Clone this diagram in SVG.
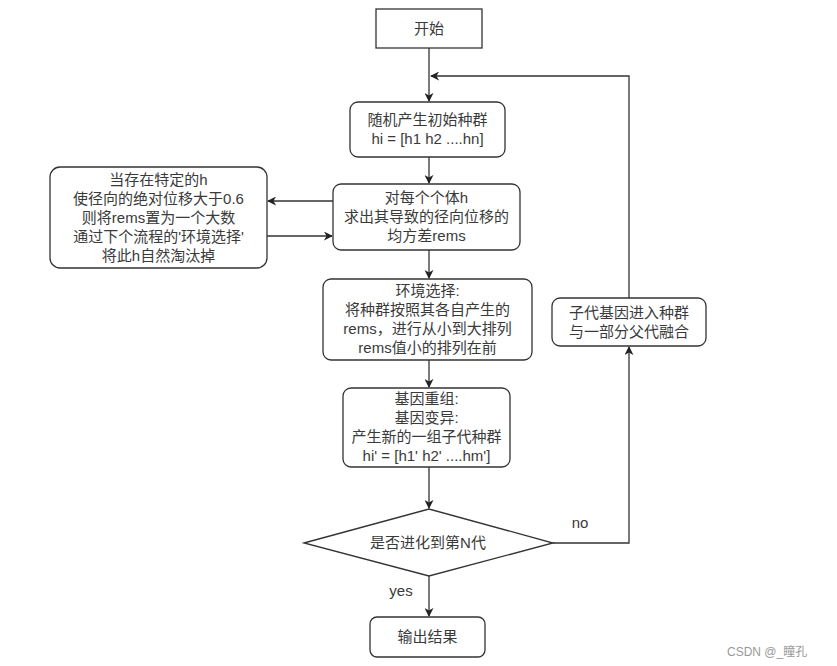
<svg xmlns="http://www.w3.org/2000/svg" width="837" height="666" viewBox="0 0 837 666">
<style>
.n{fill:#fff;stroke:#333;stroke-width:1.3}
.t{font-family:"Liberation Sans","Noto Sans CJK SC",sans-serif;font-size:15px;fill:#3a3a3a;text-anchor:middle}
.c{fill:none;stroke:#333;stroke-width:1.3}
.w{font-family:"Liberation Sans","Noto Sans CJK SC",sans-serif;font-size:12px;fill:#999}
</style>
<defs>
<marker id="a" viewBox="0 0 10 10" refX="9" refY="5" markerWidth="9" markerHeight="9" markerUnits="userSpaceOnUse" orient="auto">
<path d="M0,0 L10,5 L0,10 L3,5 Z" fill="#222"/>
</marker>
</defs>
<rect width="837" height="666" fill="#fff"/>
<g id="connectors">
<path class="c" d="M429,48 V101" marker-end="url(#a)"/>
<path class="c" d="M629,298 V76 H431" marker-end="url(#a)"/>
<path class="c" d="M429,157 V183" marker-end="url(#a)"/>
<path class="c" d="M333,201 H268" marker-end="url(#a)"/>
<path class="c" d="M267,236 H332" marker-end="url(#a)"/>
<path class="c" d="M429,250 V278" marker-end="url(#a)"/>
<path class="c" d="M429,360 V387" marker-end="url(#a)"/>
<path class="c" d="M429,467 V508" marker-end="url(#a)"/>
<path class="c" d="M553,543 H629 V347" marker-end="url(#a)"/>
<path class="c" d="M429,576 V616" marker-end="url(#a)"/>
<text class="t" x="580" y="528">no</text>
<text class="t" x="401" y="596">yes</text>
</g>
<g id="start"><rect class="n" x="376" y="9" width="106" height="39"/><text class="t" x="429" y="34">开始</text></g>
<g id="init"><rect class="n" x="350" y="102" width="155" height="55" rx="8"/><text class="t" x="427.5" y="125">随机产生初始种群</text><text class="t" x="427.5" y="144">hi = [h1 h2 ....hn]</text></g>
<g id="rems"><rect class="n" x="333" y="184" width="187" height="66" rx="8"/><text class="t" x="426.5" y="203">对每个个体h</text><text class="t" x="426.5" y="222">求出其导致的径向位移的</text><text class="t" x="426.5" y="241">均方差rems</text></g>
<g id="note"><rect class="n" x="50" y="167" width="217" height="101" rx="10"/><text class="t" x="158.5" y="184.5">当存在特定的h</text><text class="t" x="158.5" y="203.5">使径向的绝对位移大于0.6</text><text class="t" x="158.5" y="222.5">则将rems置为一个大数</text><text class="t" x="158.5" y="241.5">通过下个流程的'环境选择'</text><text class="t" x="158.5" y="260.5">将此h自然淘汰掉</text></g>
<g id="select"><rect class="n" x="323" y="279" width="209" height="81" rx="8"/><text class="t" x="427.5" y="296">环境选择:</text><text class="t" x="427.5" y="315">将种群按照其各自产生的</text><text class="t" x="427.5" y="334">rems，进行从小到大排列</text><text class="t" x="427.5" y="353">rems值小的排列在前</text></g>
<g id="gene"><rect class="n" x="343" y="388" width="167" height="79" rx="8"/><text class="t" x="426.5" y="404">基因重组:</text><text class="t" x="426.5" y="423">基因变异:</text><text class="t" x="426.5" y="442">产生新的一组子代种群</text><text class="t" x="426.5" y="461">hi' = [h1' h2' ....hm']</text></g>
<g id="decision"><polygon class="n" points="304,543 429,509 553,543 429,576"/><text class="t" x="428" y="548">是否进化到第N代</text></g>
<g id="merge"><rect class="n" x="552" y="298" width="154" height="48" rx="8"/><text class="t" x="629" y="317.5">子代基因进入种群</text><text class="t" x="629" y="336.5">与一部分父代融合</text></g>
<g id="output"><rect class="n" x="370" y="617" width="115" height="40" rx="7"/><text class="t" x="427.5" y="642">输出结果</text></g>
<text class="w" x="727" y="656">CSDN @_瞳孔</text>
</svg>
